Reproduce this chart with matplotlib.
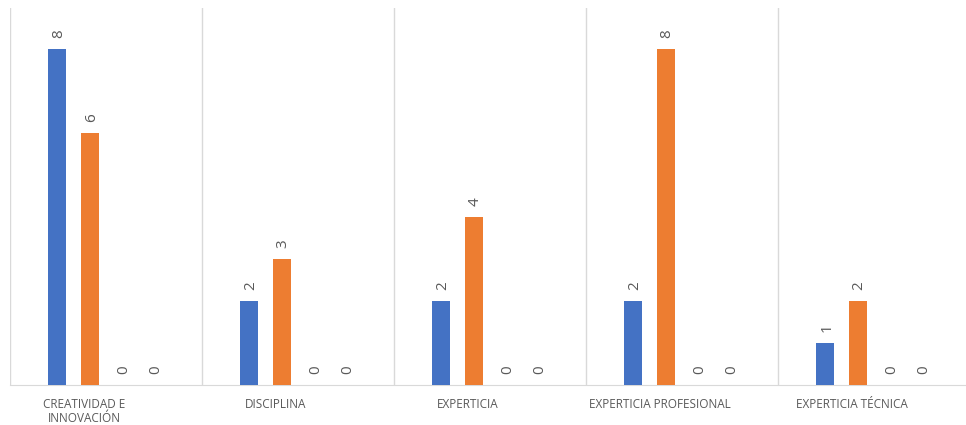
import matplotlib
matplotlib.use("Agg")
import matplotlib.pyplot as plt
import matplotlib.transforms as mtransforms
import numpy as np

# data
categories = ["CREATIVIDAD E\nINNOVACIÓN", "DISCIPLINA", "EXPERTICIA",
              "EXPERTICIA PROFESIONAL", "EXPERTICIA TÉCNICA"]
serie1 = [8, 2, 2, 2, 1]
serie2 = [6, 3, 4, 8, 2]
serie3 = [0, 0, 0, 0, 0]
serie4 = [0, 0, 0, 0, 0]
series = [serie1, serie2, serie3, serie4]
colors = ["#4472C4", "#ED7D31", "#A5A5A5", "#FFC000"]

plt.rcParams['font.family'] = ['Open Sans', 'DejaVu Sans']

fig = plt.figure(figsize=(9.66, 4.25), dpi=100)
ax = fig.add_axes([10/966, 40/425, 960/966, 377/425])

x = np.arange(len(categories))
step = 0.169
width = 0.094
for k, vals in enumerate(series):
    pos = x + (k - 1.5) * step
    ax.bar(pos, vals, width=width, color=colors[k], zorder=3)
    for px, v in zip(pos, vals):
        ax.annotate(str(v), (px, v), xytext=(1, 8), textcoords="offset points",
                    ha="center", va="bottom", rotation=90, fontsize=11,
                    color="#595959")

ax.set_xlim(-0.5, len(categories) - 0.5)
ax.set_ylim(0, 8.98)
for b in np.arange(-0.5, len(categories), 1.0):
    ax.axvline(b, color="#D9D9D9", lw=1, zorder=1)

for s in ["top", "right", "left"]:
    ax.spines[s].set_visible(False)
ax.spines["bottom"].set_color("#D9D9D9")
ax.set_yticks([])
ax.set_xticks(x)
ax.set_xticklabels(categories, fontsize=8.5, color="#595959")
ax.tick_params(axis="x", length=0, pad=9)
offset = mtransforms.ScaledTranslation(-22/100, 0, fig.dpi_scale_trans)
for lbl in ax.get_xticklabels():
    lbl.set_transform(lbl.get_transform() + offset)

fig.savefig("out.png", dpi=100)
